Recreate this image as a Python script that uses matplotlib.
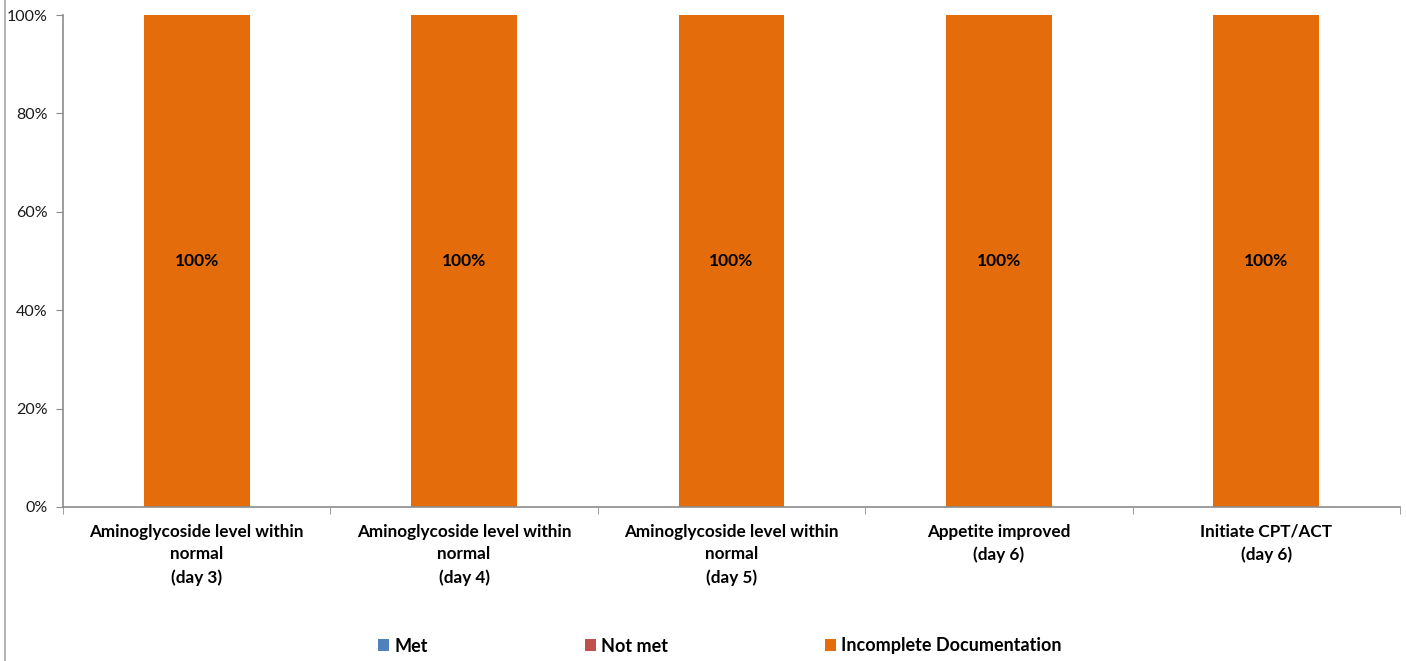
import matplotlib.pyplot as plt
from matplotlib.lines import Line2D
from matplotlib.patches import Patch
import numpy as np

plt.rcParams['font.family'] = ['Lato', 'DejaVu Sans']

categories = [
    "Aminoglycoside level within\nnormal\n(day 3)",
    "Aminoglycoside level within\nnormal\n(day 4)",
    "Aminoglycoside level within\nnormal\n(day 5)",
    "Appetite improved\n(day 6)",
    "Initiate CPT/ACT\n(day 6)",
]
met = [0, 0, 0, 0, 0]
not_met = [0, 0, 0, 0, 0]
incomplete = [100, 100, 100, 100, 100]

series_names = ["Met", "Not met", "Incomplete Documentation"]
colors = ["#4F81BD", "#C0504D", "#E46C0A"]
axis_gray = "#8C8C8C"

fig = plt.figure(figsize=(14.06, 6.61), dpi=100)
ax = fig.add_axes([63 / 1406, 1 - 507 / 661, (1400 - 63) / 1406, (507 - 15) / 661])

x = np.arange(len(categories))
width = 0.396
bottom = np.zeros(len(categories))
for vals, name, c in zip([met, not_met, incomplete], series_names, colors):
    vals = np.array(vals, dtype=float)
    bars = ax.bar(x, vals, width, bottom=bottom, color=c, label=name)
    for b, v, b0 in zip(bars, vals, bottom):
        if v > 0:
            ax.text(b.get_x() + b.get_width() / 2, b0 + v / 2, f"{v:.0f}%",
                    ha="center", va="center", fontsize=12.5, fontweight="bold", color="black")
    bottom += vals

ax.set_xlim(-0.5, len(categories) - 0.5)
ax.set_ylim(0, 100)
ax.set_yticks(range(0, 101, 20))
ax.set_yticklabels([f"{v}%" for v in range(0, 101, 20)], fontsize=11.5, color="#1a1a1a")
ax.set_xticks(x)
ax.set_xticklabels(categories, fontsize=12.3, fontweight="bold", color="black", linespacing=1.5)
ax.tick_params(axis="x", which="major", length=0, pad=12)
ax.set_xticks(np.arange(-0.5, len(categories), 1), minor=True)
ax.tick_params(axis="x", which="minor", length=5, color=axis_gray, direction="out")
ax.tick_params(axis="y", length=5, color=axis_gray, direction="out", pad=6)

for s in ["top", "right"]:
    ax.spines[s].set_visible(False)
for s in ["left", "bottom"]:
    ax.spines[s].set_color(axis_gray)
    ax.spines[s].set_linewidth(1.2)

handles = [Patch(facecolor=c, label=n) for c, n in zip(colors, series_names)]
leg = fig.legend(handles=handles, loc="center", bbox_to_anchor=(720 / 1406, 1 - 646 / 661),
                 ncol=3, frameon=False, handlelength=0.6, handleheight=0.6,
                 handletextpad=0.3, columnspacing=8.7,
                 prop={"family": "Lato", "weight": "bold", "size": 13})

fig.add_artist(Line2D([5 / 1406, 5 / 1406], [0, 1], color="#A6A6A6", linewidth=1.2,
                      transform=fig.transFigure))

fig.savefig("out.png", dpi=100)
